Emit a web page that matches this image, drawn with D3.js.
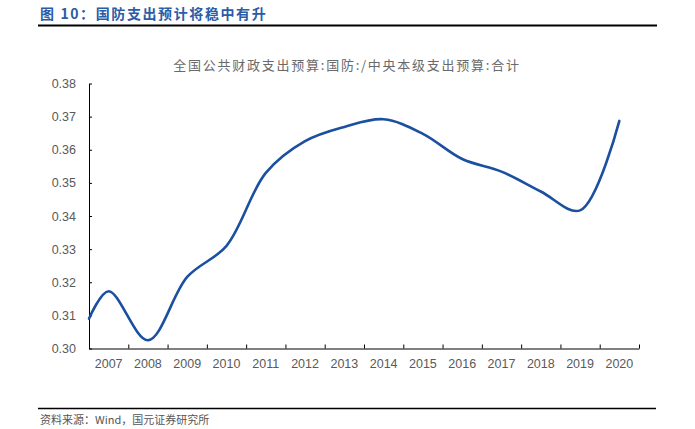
<!DOCTYPE html>
<html><head><meta charset="utf-8">
<script src="https://cdn.jsdelivr.net/npm/d3@7/dist/d3.min.js"></script>
<style>body{margin:0;background:#fff;} svg{display:block;}</style>
</head><body>
<svg id="c" width="695" height="429"></svg>
<script>
// Data
const years = [2007,2008,2009,2010,2011,2012,2013,2014,2015,2016,2017,2018,2019,2020];
const pointX = [2006.5,2007,2008,2009,2010,2011,2012,2013,2014,2015,2016,2017,2018,2019,2020];
const values = [0.3090,0.3173,0.3025,0.3216,0.3310,0.3530,0.3626,0.3669,0.3692,0.3648,0.3572,0.3534,0.3474,0.3417,0.3687];
const yTicks = [0.30,0.31,0.32,0.33,0.34,0.35,0.36,0.37,0.38];
const figTitle = "图 10：国防支出预计将稳中有升";
const chartTitle = "全国公共财政支出预算:国防:/中央本级支出预算:合计";
const source = "资料来源：Wind，国元证券研究所";

const svg = d3.select("#c");
const L = 89, R = 639, T = 83.5, B = 348.5;
const x = d3.scaleLinear().domain([2006.5, 2020.5]).range([L, R]);
const y = d3.scaleLinear().domain([0.30, 0.38]).range([B, T]);
const grey = "#595959";
const cjk = "'Noto Sans CJK SC', sans-serif";

// figure title
svg.append("text").attr("x", 40).attr("y", 19)
  .attr("font-family", cjk).attr("font-weight", "bold").attr("font-size", 14)
  .attr("letter-spacing", 1.6)
  .attr("fill", "#2a5ca8").text(figTitle);
svg.append("line").attr("x1", 38).attr("x2", 657).attr("y1", 25.5).attr("y2", 25.5)
  .attr("stroke", "#000").attr("stroke-width", 2);

// chart title
svg.append("text").attr("x", 347).attr("y", 70).attr("text-anchor", "middle")
  .attr("font-family", cjk).attr("font-size", 13).attr("letter-spacing", 1.75)
  .attr("fill", "#6a6a6a").text(chartTitle);

// y axis
const yAxis = d3.axisLeft(y).tickValues(yTicks).tickFormat(d3.format(".2f")).tickSizeInner(-3).tickSizeOuter(0).tickPadding(13);
const gy = svg.append("g").attr("transform", `translate(${L},0)`).call(yAxis);
gy.select(".domain").attr("stroke", "#000");
gy.selectAll(".tick line").attr("stroke", "#000");
gy.selectAll("text").attr("font-family", "'Liberation Sans', Arial, sans-serif").attr("font-size", 12.5).attr("fill", grey);

// x axis: ticks at band boundaries, labels centered
const boundaries = d3.range(years.length + 1).map(i => 2006.5 + i);
const gx = svg.append("g").attr("transform", `translate(0,${B})`)
  .call(d3.axisBottom(x).tickValues(boundaries).tickFormat("").tickSizeInner(-4).tickSizeOuter(0));
gx.select(".domain").attr("stroke", "#000");
gx.selectAll(".tick line").attr("stroke", "#000");
svg.append("g").selectAll("text").data(years).join("text")
  .attr("x", d => x(d)).attr("y", 368).attr("text-anchor", "middle")
  .attr("font-family", "'Liberation Sans', Arial, sans-serif").attr("font-size", 12.5).attr("fill", grey)
  .text(d => d);

// line
const line = d3.line().x((d, i) => x(pointX[i])).y(d => y(d)).curve(d3.curveCatmullRom.alpha(0.5));
svg.append("path").datum(values).attr("d", line)
  .attr("fill", "none").attr("stroke", "#1b4f9f").attr("stroke-width", 2.6)
  .attr("stroke-linecap", "round");

// footer
svg.append("line").attr("x1", 38).attr("x2", 656).attr("y1", 408.5).attr("y2", 408.5)
  .attr("stroke", "#000").attr("stroke-width", 1.5);
svg.append("text").attr("x", 40).attr("y", 424)
  .attr("font-family", cjk).attr("font-size", 11).attr("fill", "#555").text(source);
</script>
</body></html>
